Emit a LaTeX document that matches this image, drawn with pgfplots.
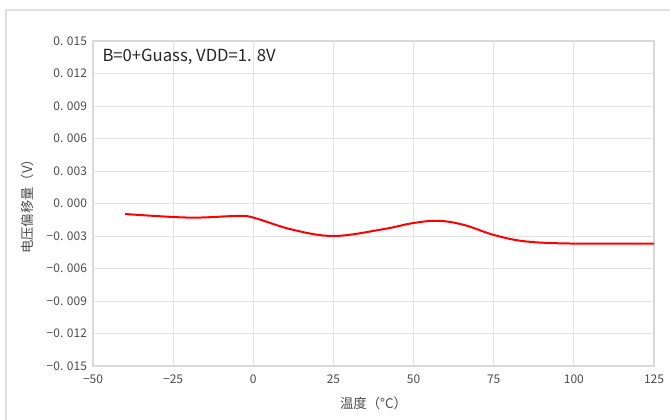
\documentclass[border=0pt]{standalone}
\usepackage{fontspec}
\setmainfont{Noto Sans CJK SC}
\usepackage{pgfplots}
\pgfplotsset{compat=1.18}

\begin{document}
\begin{tikzpicture}
  \useasboundingbox (0pt,0pt) rectangle (502.5pt,315pt);
  \fill[white] (0pt,0pt) rectangle (502.5pt,315pt);
  \draw[gray!25, line width=0.8pt] (4.5pt,-4pt) -- (4.5pt,307.5pt) -- (506pt,307.5pt);
  \begin{axis}[
      at={(69.75pt,40.5pt)}, anchor=south west,
      scale only axis,
      width=420.75pt, height=243.75pt,
      xmin=-50, xmax=125, ymin=-0.015, ymax=0.015,
      xtick={-50,-25,...,125},
      ytick={-0.015,-0.012,...,0.0151},
      scaled y ticks=false,
      yticklabels={−0. 015,−0. 012,−0. 009,−0. 006,−0. 003,0. 000,0. 003,0. 006,0. 009,0. 012,0. 015},
      xticklabels={−50,−25,0,25,50,75,100,125},
      major tick length=0pt,
      grid=major,
      grid style={gray!22, line width=0.6pt},
      axis line style={gray!30, line width=0.8pt},
      tick label style={font=\fontsize{9}{10}\selectfont, text=black!70},
      xticklabel style={yshift=-3pt},
      yticklabel style={xshift=-1pt},
      xlabel={温度（°C）},
      ylabel={电压偏移量（V）},
      label style={font=\fontsize{10}{12}\selectfont, text=black!70},
      xlabel style={yshift=-3pt},
      ylabel style={yshift=3pt},
    ]
    \addplot[red, line width=1.5pt, smooth, tension=0.6] coordinates {
      (-40,-0.00097) (-20,-0.0013) (-5,-0.00115) (0,-0.0013)
      (12,-0.0024) (25,-0.0030) (40,-0.0024) (50,-0.0018) (58,-0.0016)
      (66,-0.0020) (75,-0.0029) (85,-0.0035) (100,-0.0037) (125,-0.0037)
    };
    \node[anchor=west, font=\fontsize{12.5}{14}\selectfont, text=black!85]
      at (axis cs:-48.5,0.0135) {B=0+Guass, VDD=1. 8V};
  \end{axis}
\end{tikzpicture}
\end{document}
